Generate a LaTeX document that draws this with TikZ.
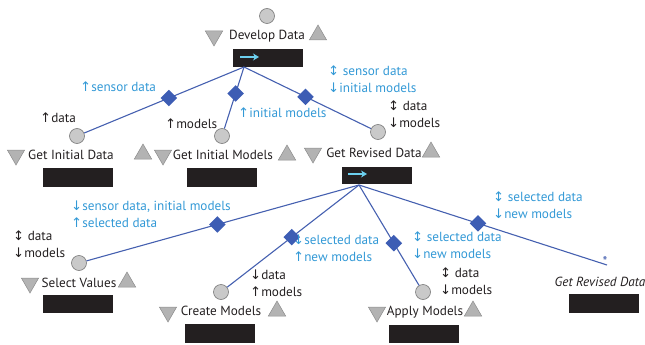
\documentclass[tikz,border=0pt]{standalone}
\usepackage{fontspec}
\setmainfont{PT Sans}
\newfontfamily\arrfont{DejaVu Sans}
\usetikzlibrary{shapes.geometric,arrows.meta}
\definecolor{linkblue}{HTML}{4560B0}
\definecolor{diamblue}{HTML}{3D5DB4}
\definecolor{lblblue}{HTML}{3399D6}
\definecolor{ink}{HTML}{231F20}
\definecolor{circfill}{HTML}{C9C9C9}
\definecolor{circedge}{HTML}{7A7A7A}
\definecolor{trifill}{HTML}{B3B3B3}
\definecolor{triedge}{HTML}{8C8C8C}
\definecolor{arrcyan}{HTML}{6CCFEE}
\newcommand{\up}{{\arrfont\char"2191}}
\newcommand{\dn}{{\arrfont\char"2193}}
\newcommand{\ud}{{\arrfont\char"2195}}
\begin{document}
\begin{tikzpicture}[x=1pt,y=-1pt,
  every node/.style={font=\fontsize{13.2}{17}\selectfont, text=ink},
  port/.style={circle, draw=circedge, fill=circfill, line width=0.6pt, minimum size=15pt, inner sep=0pt},
  tridown/.style={regular polygon, regular polygon sides=3, shape border rotate=180, draw=triedge, fill=trifill, line width=0.5pt, minimum size=20pt, inner sep=0pt},
  triup/.style={regular polygon, regular polygon sides=3, draw=triedge, fill=trifill, line width=0.5pt, minimum size=20pt, inner sep=0pt},
  blackbox/.style={rectangle, fill=ink, minimum width=70pt, minimum height=18pt, inner sep=0pt},
  link/.style={draw=linkblue, line width=1.1pt},
  joint/.style={diamond, fill=diamblue, minimum size=17pt, inner sep=0pt},
  bluelbl/.style={anchor=west, align=left, text=lblblue, inner sep=0pt},
  blacklbl/.style={anchor=west, align=left, text=ink, inner sep=0pt},
  namelbl/.style={inner sep=0pt},
  flow/.style={draw=arrcyan, line width=2pt, -{Stealth[length=6pt,width=7pt]}}
]
\useasboundingbox (0,0) rectangle (645,345);

% --- Develop Data ---
\node[port] (c0) at (267,16) {};
\node[namelbl] (n0) at (267,36) {Develop Data};
\node[tridown] (d0) at (214,36) {};
\node[triup] (u0) at (318,35) {};
\node[blackbox] (b0) at (268,58) {};
\draw[flow] (240,57) -- (259,57);
\coordinate (o0) at (244,67);

% --- Get Initial Data ---
\node[port] (c1) at (77,136) {};
\node[namelbl] (n1) at (71,155) {Get Initial Data};
\node[tridown] (d1) at (16,155) {};
\node[triup] (u1) at (143,154) {};
\node[blackbox, minimum height=19pt] (b1) at (78,177) {};

% --- Get Initial Models ---
\node[port] (c2) at (222,136) {};
\node[namelbl] (n2) at (223,155) {Get Initial Models};
\node[tridown] (d2) at (163,155) {};
\node[triup] (u2) at (287,155) {};
\node[blackbox, minimum height=19pt] (b2) at (222,177) {};

% --- Get Revised Data ---
\node[port] (c3) at (378,132) {};
\node[namelbl] (n3) at (374,153) {Get Revised Data};
\node[tridown] (d3) at (313,153) {};
\node[triup] (u3) at (431,152) {};
\node[blackbox, minimum height=17pt] (b3) at (377,175) {};
\draw[flow] (348,174) -- (367,174);
\coordinate (o3) at (359,185);

% --- Select Values ---
\node[port] (c4) at (79,263) {};
\node[namelbl] (n4) at (79,283) {Select Values};
\node[tridown] (d4) at (30,283) {};
\node[triup] (u4) at (127,282) {};
\node[blackbox] (b4) at (78,304) {};

% --- Create Models ---
\node[port] (c5) at (221,292) {};
\node[namelbl] (n5) at (221,311) {Create Models};
\node[tridown] (d5) at (168,312) {};
\node[triup] (u5) at (277,311) {};
\node[blackbox, minimum height=19pt] (b5) at (220,333) {};

% --- Apply Models ---
\node[port] (c6) at (423,292) {};
\node[namelbl] (n6) at (425,312) {Apply Models};
\node[tridown] (d6) at (377,312) {};
\node[triup] (u6) at (473,311) {};
\node[blackbox] (b6) at (424,334) {};

% --- recursive reference ---
\node[text=linkblue, inner sep=0pt, font=\fontsize{14}{14}\selectfont] (s7) at (605,261) {*};
\coordinate (e7) at (607,265);
\node[namelbl, font=\fontsize{13.2}{17}\selectfont\itshape] (n7) at (600,282) {Get Revised Data};
\node[blackbox, minimum height=19pt] (b7) at (604,303) {};

% --- connectors from Develop Data ---
\draw[link] (o0) -- (c1) node[joint, pos=0.47] (j1) {};
\draw[link] (o0) -- (c2) node[joint, pos=0.43] (j2) {};
\draw[link] (o0) -- (c3) node[joint, pos=0.485] (j3) {};

% --- connectors from Get Revised Data ---
\draw[link] (o3) -- (c4) node[joint, pos=0.52] (j4) {};
\draw[link] (o3) -- (c5) node[joint, pos=0.51] (j5) {};
\draw[link] (o3) -- (c6) node[joint, pos=0.58] (j6) {};
\draw[link] (o3) -- (e7) node[joint, pos=0.48] (j7) {};

% --- flow labels ---
\node[bluelbl] (l1) at (80,87) {\up sensor data};
\node[blacklbl] (k1) at (40,118) {\up data};
\node[blacklbl] (k2) at (165,124) {\up models};
\node[bluelbl] (l2) at (238,113) {\up initial models};
\node[bluelbl] (l3) at (328,79.5) {\ud{} sensor data\\\dn initial models};
\node[blacklbl] (k3) at (388,114.5) {\ud{} data\\\dn models};

\node[bluelbl] (l4) at (71,214) {\dn sensor data, initial models\\\up selected data};
\node[blacklbl] (k4) at (13,244.5) {\ud{} data\\\dn models};
\node[bluelbl] (l5) at (293,248.5) {\dn selected data\\\up new models};
\node[blacklbl] (k5) at (250,283.5) {\dn data\\\up models};
\node[bluelbl] (l6) at (412,245) {\ud{} selected data\\\dn new models};
\node[blacklbl] (k6) at (440,281) {\ud{} data\\\dn models};
\node[bluelbl] (l7) at (493,205.5) {\ud{} selected data\\\dn new models};
\end{tikzpicture}
\end{document}
